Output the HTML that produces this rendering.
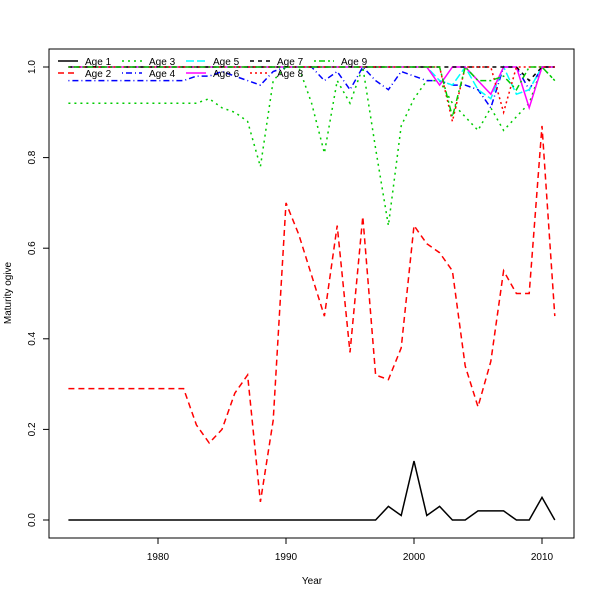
<!DOCTYPE html>
<html><head><meta charset="utf-8"><style>body{margin:0;background:#fff}svg{display:block}text{font-family:"Liberation Sans",sans-serif;font-size:10px}</style></head>
<body>
<svg id="s" width="600" height="600" xmlns="http://www.w3.org/2000/svg">
<rect x="0" y="0" width="600" height="600" fill="#fff"/>
<rect x="49" y="49" width="525" height="489" fill="none" stroke="#000"/>
<g stroke="#000">
<line x1="158" y1="538" x2="158" y2="544"/><line x1="286" y1="538" x2="286" y2="544"/><line x1="414" y1="538" x2="414" y2="544"/><line x1="542" y1="538" x2="542" y2="544"/>
<line x1="43" y1="520" x2="49" y2="520"/><line x1="43" y1="429.4" x2="49" y2="429.4"/><line x1="43" y1="338.8" x2="49" y2="338.8"/><line x1="43" y1="248.2" x2="49" y2="248.2"/><line x1="43" y1="157.6" x2="49" y2="157.6"/><line x1="43" y1="67" x2="49" y2="67"/>
</g>
<g text-anchor="middle">
<text x="158" y="560">1980</text><text x="286" y="560">1990</text><text x="414" y="560">2000</text><text x="542" y="560">2010</text>
<text x="312" y="584">Year</text>
<text transform="translate(35,520) rotate(-90)">0.0</text>
<text transform="translate(35,429.4) rotate(-90)">0.2</text>
<text transform="translate(35,338.8) rotate(-90)">0.4</text>
<text transform="translate(35,248.2) rotate(-90)">0.6</text>
<text transform="translate(35,157.6) rotate(-90)">0.8</text>
<text transform="translate(35,67) rotate(-90)">1.0</text>
<text transform="translate(11,293) rotate(-90)">Maturity ogive</text>
</g>
<g id="series" fill="none" stroke-width="1.5"></g>
<g id="leg"></g>
</svg>
<script>
function c(n,v){return Array(n).fill(v);}
var A1=c(25,0).concat([0.03,0.01,0.13,0.01,0.03,0,0,0.02,0.02,0.02,0,0,0.05,0]);
var A2=c(10,0.29).concat([0.21,0.17,0.2,0.28,0.32,0.04,0.22,0.70,0.63,0.54,0.45,0.65,0.37,0.67,0.32,0.31,0.38,0.65,0.61,0.59,0.55,0.34,0.25,0.35,0.55,0.5,0.5,0.87,0.45]);
var A3=c(11,0.92).concat([0.93,0.91,0.90,0.88,0.78,0.97,1,1,0.92,0.81,0.97,0.92,1,0.82,0.65,0.87,0.93,0.97,0.97,0.92,0.89,0.86,0.91,0.86,0.89,0.92,1,0.97]);
var A4=c(10,0.97).concat([0.98,0.98,0.99,0.98,0.97,0.96,0.99,1,1,1,0.97,0.99,0.95,1,0.97,0.95,0.99,0.98,0.97,0.97,0.96,0.96,0.95,0.91,1,1,0.95,1,1]);
var A5=c(29,1).concat([0.97,0.96,1,0.95,0.93,1,0.94,0.95,1,1]);
var A6=c(29,1).concat([0.96,1,1,0.97,0.94,1,1,0.91,1,1]);
var A7=c(36,1).concat([0.97,1,1]);
var A8=c(30,1).concat([0.88,1,1,1,0.9,1,1,1,1]);
var A9=c(30,1).concat([0.89,1,0.97,0.97,0.98,0.95,1,1,0.97]);
var S=[[A1,"#000",""],[A2,"#f00","6,4"],[A3,"#0c0","2,4"],[A4,"#00f","1,3,6,3"],[A5,"#0ff","8,3"],[A6,"#f0f","14,0"],[A7,"#000","4,4"],[A8,"#f00","2,3"],[A9,"#0c0","2,3,6,3"]];
var g=document.getElementById("series"),ns="http://www.w3.org/2000/svg";
S.forEach(function(s){var p=document.createElementNS(ns,"polyline");
p.setAttribute("points",s[0].map(function(v,i){return (68.4+12.8*i).toFixed(1)+","+(520-453*v).toFixed(1);}).join(" "));
p.setAttribute("stroke",s[1]);if(s[2])p.setAttribute("stroke-dasharray",s[2]);g.appendChild(p);});
var L=document.getElementById("leg");
var order=[0,2,4,6,8,1,3,5,7];
for(var k=0;k<9;k++){var i=k,row=i%2,col=Math.floor(i/2);var s=S[i];
var x=58+64*col,y=row?73:61;
var l=document.createElementNS(ns,"line");l.setAttribute("x1",x);l.setAttribute("x2",x+20);l.setAttribute("y1",y);l.setAttribute("y2",y);l.setAttribute("stroke",s[1]);l.setAttribute("stroke-width","1.5");if(s[2])l.setAttribute("stroke-dasharray",s[2]);L.appendChild(l);
var t=document.createElementNS(ns,"text");t.setAttribute("x",x+27);t.setAttribute("y",y+4);t.textContent="Age "+(i+1);L.appendChild(t);}
</script>
</body></html>
